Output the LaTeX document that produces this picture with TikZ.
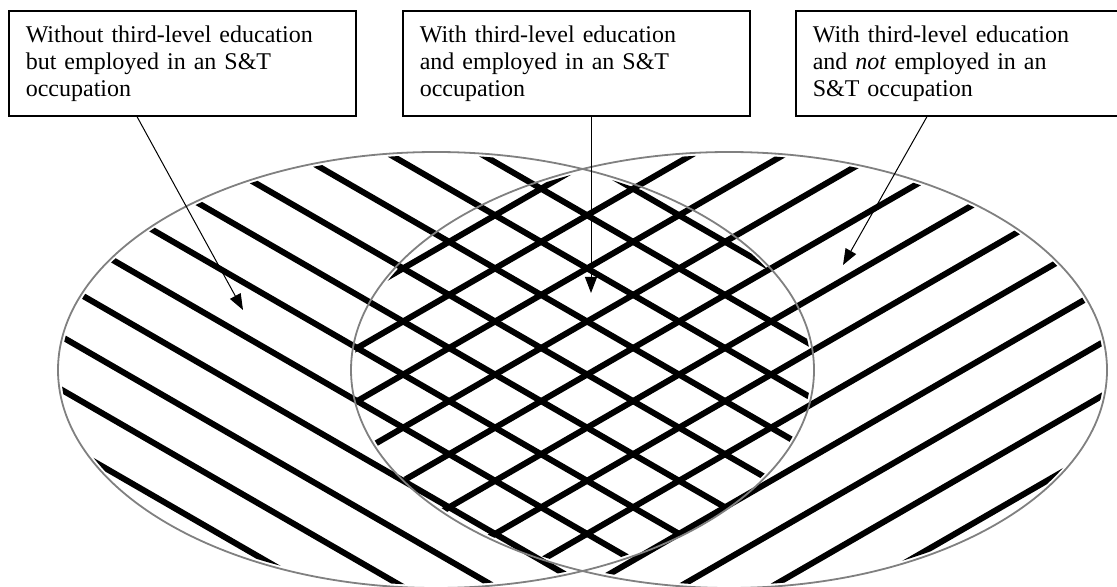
\documentclass[tikz,border=0pt]{standalone}
\usepackage{fontspec}
\setmainfont{Liberation Serif}
\usetikzlibrary{arrows.meta}

\begin{document}
\begin{tikzpicture}[x=0.5pt, y=-0.5pt,
  label box/.style={draw, line width=0.8pt, fill=white, anchor=north west,
    minimum width=173.5pt, minimum height=52.5pt, text width=156.5pt,
    inner xsep=8.5pt, align=left, font=\fontsize{12pt}{13.5pt}\selectfont},
  hatch line/.style={line width=3pt},
  set outline/.style={draw=black!50, line width=0.9pt},
  pointer/.style={-{Triangle[length=8pt,width=6pt]}, line width=0.5pt}]
  \clip (0,0) rectangle (1117,587);

  % left set: lines falling to the right
  \begin{scope}
    \clip (436,370) ellipse [x radius=375, y radius=215];
    \foreach \k in {-11,...,6}
      \draw[hatch line] (0,{248+53.1*\k}) -- (1117,{892.9+53.1*\k});
  \end{scope}
  % right set: lines rising to the right
  \begin{scope}
    \clip (729,370) ellipse [x radius=375, y radius=215];
    \foreach \k in {-5,...,12}
      \draw[hatch line] (0,{979-53.1*\k}) -- (1117,{334.1-53.1*\k});
  \end{scope}

  \draw[set outline] (436,370) ellipse [x radius=378, y radius=218];
  \draw[set outline] (729,370) ellipse [x radius=378, y radius=218];

  \node[label box] (without) at (8,10) {Without third-level education\\but employed in an S\&T\\occupation};
  \node[label box] (with) at (402,10) {With third-level education\\and employed in an S\&T\\occupation};
  \node[label box] (notemp) at (795,10) {With third-level education\\and \emph{not} employed in an\\S\&T occupation};

  \coordinate (tip1) at (243,310);
  \coordinate (tip2) at (591,293);
  \coordinate (tip3) at (843,265);

  \draw[pointer] ([xshift=64.5pt]without.south west) -- (tip1);
  \draw[pointer] ([xshift=94.5pt]with.south west) -- (tip2);
  \draw[pointer] ([xshift=66pt]notemp.south west) -- (tip3);
\end{tikzpicture}
\end{document}
